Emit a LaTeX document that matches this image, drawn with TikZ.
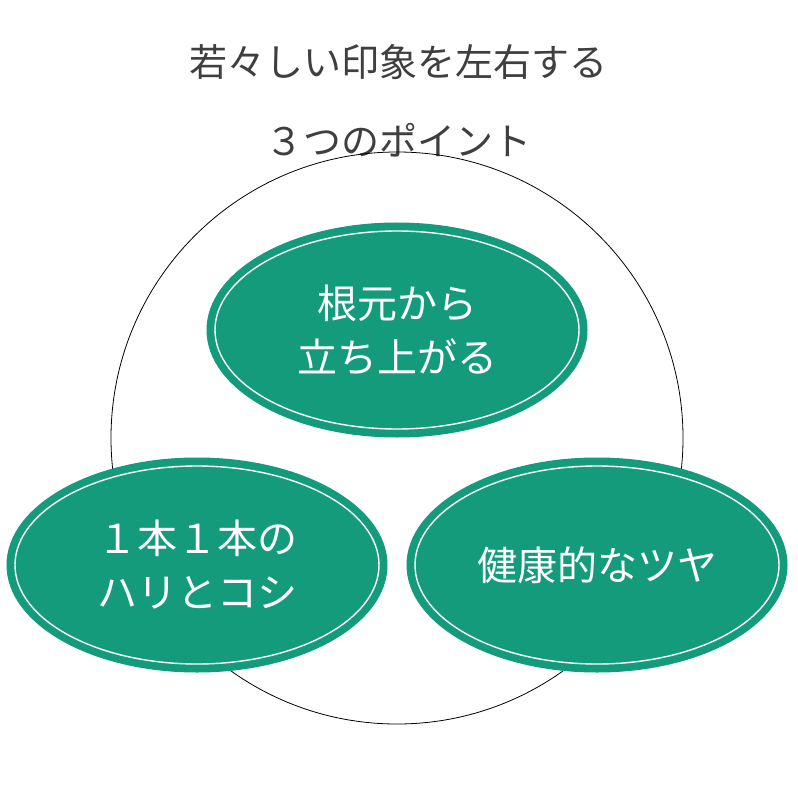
\documentclass[tikz,border=0pt]{standalone}
\usepackage{fontspec}
\newfontfamily\cjk{Noto Sans CJK JP}
\definecolor{grn}{HTML}{139B7C}
\definecolor{ttl}{HTML}{3F3F3F}
\begin{document}
\begin{tikzpicture}[x=1pt,y=-1pt,
  blob/.style={fill=grn,draw=grn,line width=1pt},
  inner/.style={draw=white,line width=1.4pt},
  lbl/.style={text=white,font=\cjk\fontsize{40}{54}\selectfont,align=center},
  ttlstyle/.style={text=ttl,font=\cjk\fontsize{38}{50}\selectfont}]
\useasboundingbox (0,0) rectangle (797,799);
\fill[white] (0,0) rectangle (797,799);
\node[ttlstyle] (t1) at (398,62) {若々しい印象を左右する};
\node[ttlstyle] (t2) at (398,140) {３つのポイント};
\draw[black,line width=0.8pt] (397,438) circle[radius=286];
\foreach \n/\x/\y in {top/397/330,left/197/565,right/597/565}{
  \fill[blob] (\x,\y) ellipse[x radius=190,y radius=107];
  \draw[inner] (\x,\y) ellipse[x radius=182,y radius=99];
  \coordinate (\n) at (\x,\y);
}
\node[lbl] (a) at (top) {根元から\\立ち上がる};
\node[lbl] (b) at (left) {１本１本の\\ハリとコシ};
\node[lbl] (c) at (right) {健康的なツヤ};
\end{tikzpicture}
\end{document}
